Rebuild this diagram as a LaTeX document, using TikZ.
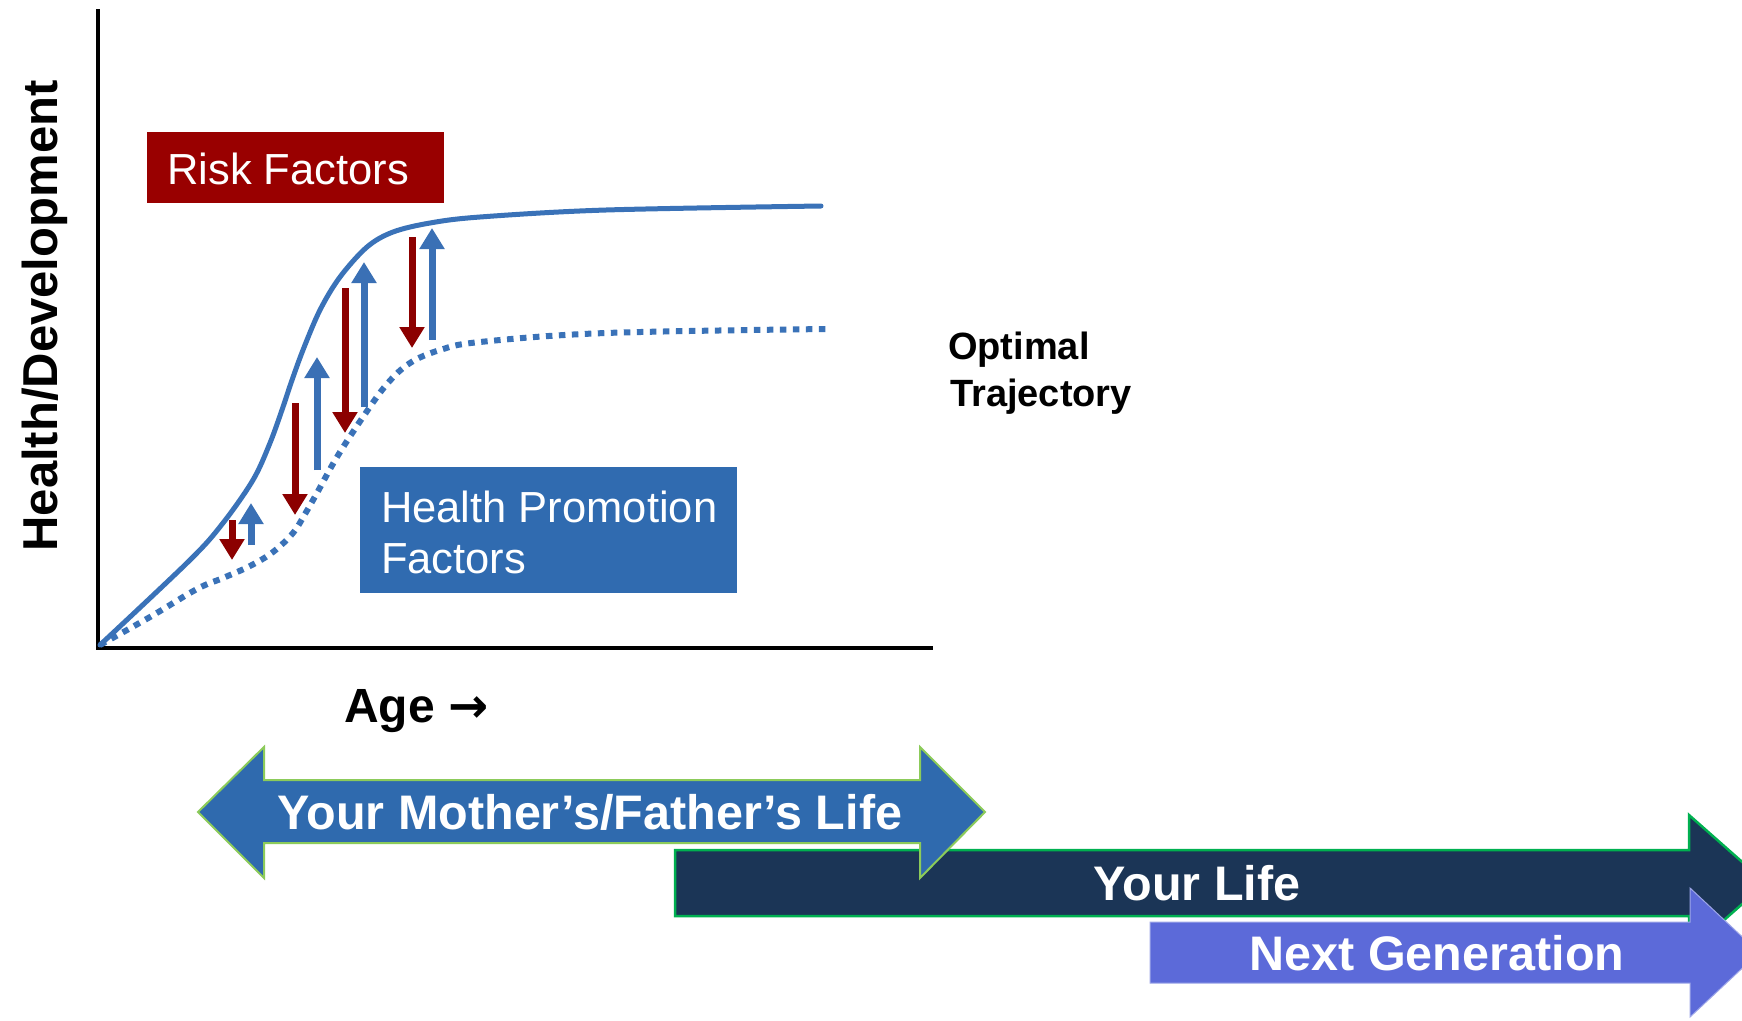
\documentclass[tikz,border=0pt]{standalone}
\usepackage{fontspec}
\setmainfont{Liberation Sans}
\newfontfamily\arrowfont{DejaVu Sans}
\usetikzlibrary{arrows.meta}
\definecolor{curveblue}{HTML}{3A72B8}
\definecolor{boxblue}{HTML}{306BB0}
\definecolor{riskred}{HTML}{990000}
\definecolor{arrowred}{HTML}{8C0000}
\definecolor{upblue}{HTML}{3A70B5}
\definecolor{motherblue}{HTML}{2F6AAE}
\definecolor{navy}{HTML}{1B3556}
\definecolor{nextblue}{HTML}{5C6AD9}
\definecolor{lightgreen}{HTML}{8CCB5A}
\definecolor{brightgreen}{HTML}{00B050}
\begin{document}
\begin{tikzpicture}[x=1pt,y=-1pt,
  boxlbl/.style={inner sep=0pt, text=white, font=\fontsize{43.5}{51}\selectfont},
  blacklbl/.style={inner sep=0pt, text=black, font=\bfseries\fontsize{48}{56}\selectfont},
  ylbl/.style={inner sep=0pt, text=black, font=\bfseries\fontsize{49}{56}\selectfont},
  optlbl/.style={inner sep=0pt, text=black, font=\bfseries\fontsize{38}{46}\selectfont},
  arrlbl/.style={inner sep=0pt, text=white, font=\bfseries\fontsize{48.5}{56}\selectfont},
  axisline/.style={draw=black, line width=4pt},
  solidcurve/.style={draw=curveblue, line width=5pt, line cap=round},
  dottedcurve/.style={draw=curveblue, line width=6pt, dash pattern=on 6.5pt off 6.5pt},
  downarrow/.style={draw=arrowred, line width=7pt, -{Triangle[width=24pt,length=21pt]}},
  uparrow/.style={draw=upblue, line width=7pt, -{Triangle[width=24pt,length=21pt]}},
]
\useasboundingbox (0,0) rectangle (1742,1020);
\fill[white] (0,0) rectangle (1742,1020);

% axes
\coordinate (ytop) at (98,9);
\coordinate (orig) at (98,648);
\coordinate (xend) at (933,648);
\draw[axisline] (ytop) -- (orig) -- (xend);

% curves
\draw[dottedcurve] plot[smooth, tension=0.6] coordinates {(100,645) (150,617) (197,589) (223,578) (250,566) (273,552) (293,533) (305,514) (317,493) (337,457) (363,417) (387,384) (410,363) (440,350) (480,342) (606,333) (828,329)};
\draw[solidcurve] plot[smooth, tension=0.55] coordinates {(100,645) (190,560) (223,523) (253,480) (270,443) (283,407) (291,383) (303,350) (320,310) (340,277) (367,247) (393,232) (430,223) (480,217) (606,210) (821,206)};

% risk (down) arrows
\coordinate (r1s) at (232,520); \coordinate (r1e) at (232,560);
\coordinate (r2s) at (295,403); \coordinate (r2e) at (295,515);
\coordinate (r3s) at (345,288); \coordinate (r3e) at (345,433);
\coordinate (r4s) at (412,237); \coordinate (r4e) at (412,348);
\draw[downarrow] (r1s) -- (r1e);
\draw[downarrow] (r2s) -- (r2e);
\draw[downarrow] (r3s) -- (r3e);
\draw[downarrow] (r4s) -- (r4e);
% promotion (up) arrows
\coordinate (b1s) at (251,545); \coordinate (b1e) at (251,503);
\coordinate (b2s) at (317,470); \coordinate (b2e) at (317,357);
\coordinate (b3s) at (364,407); \coordinate (b3e) at (364,262);
\coordinate (b4s) at (432,340); \coordinate (b4e) at (432,228);
\draw[uparrow] (b1s) -- (b1e);
\draw[uparrow] (b2s) -- (b2e);
\draw[uparrow] (b3s) -- (b3e);
\draw[uparrow] (b4s) -- (b4e);

% boxes
\fill[riskred] (147,132) rectangle (444,203);
\node[boxlbl, anchor=base west] (risk) at (167,184) {Risk Factors};
\fill[boxblue] (360,467) rectangle (737,593);
\node[boxlbl, anchor=base west] (hp1) at (381,522) {Health Promotion};
\node[boxlbl, anchor=base west] (hp2) at (381,573) {Factors};

% axis labels
\node[ylbl, rotate=90, anchor=base] (ylab) at (57,316) {Health/Development};
\node[blacklbl, anchor=base west] (age) at (344,722) {Age {\arrowfont →}};
\node[optlbl, anchor=base west] (opt1) at (948,359) {Optimal};
\node[optlbl, anchor=base west] (opt2) at (950,406) {Trajectory};

% bottom arrows
\filldraw[fill=navy, draw=brightgreen, line width=2.5pt, line join=miter]
  (675,850) -- (1689,850) -- (1689,815) -- (1766,883) -- (1689,951) -- (1689,916) -- (675,916) -- cycle;
\filldraw[fill=motherblue, draw=lightgreen, line width=2pt, line join=miter]
  (198,812) -- (264,747) -- (264,780) -- (920,780) -- (920,747) -- (985,812) -- (920,878) -- (920,843) -- (264,843) -- (264,878) -- cycle;
\filldraw[fill=nextblue, draw=nextblue!60!white, line width=1pt, line join=miter]
  (1150,922) -- (1690,922) -- (1690,888) -- (1759,952.5) -- (1690,1017) -- (1690,983) -- (1150,983) -- cycle;
\node[arrlbl, anchor=base] (mother) at (590,829) {Your Mother’s/Father’s Life};
\node[arrlbl, anchor=base] (your) at (1197,900) {Your Life};
\node[arrlbl, anchor=base] (next) at (1437,970) {Next Generation};
\end{tikzpicture}
\end{document}
